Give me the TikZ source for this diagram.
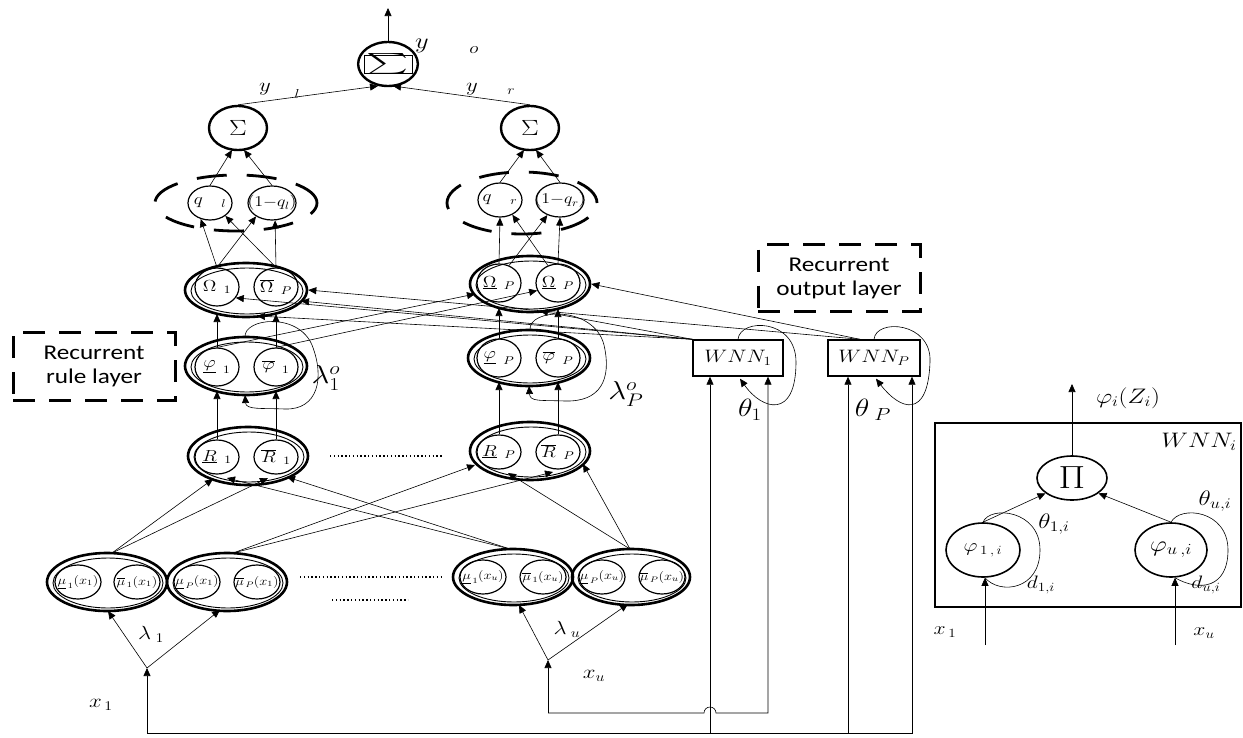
\RequirePackage{fix-cm}
\documentclass[tikz,border=0pt]{standalone}
\usepackage{fontspec}
\newfontfamily\boxfont{Carlito}
\usetikzlibrary{shapes.geometric,arrows.meta,calc}
\newcommand\sx[1]{\scalebox{1.2}[1]{#1}}
\newcommand\fs[1]{\fontsize{#1}{#1}\selectfont}
\newcommand\lay[5]{\node[outer, minimum width=#4, minimum height=#5] (#1) at (#2,#3) {};
  \draw[line width=0.9pt] (#2+1,#3+1) ellipse [x radius={#4/2-5}, y radius={#5/2-4}];}
\newcommand\inn[5][]{\node[inner,#1] (#2) at (#3,#4) {}; \node[lab] (#2t) at (#2) {\sx{#5}};}
\begin{document}
\begin{tikzpicture}[x=1pt,y=-1pt,
  arr/.style={-{Triangle[length=8pt,width=7pt]}, line width=0.6pt},
  outer/.style={draw, ellipse, line width=2.6pt, inner sep=0pt},
  inner/.style={draw, ellipse, line width=1.2pt, minimum width=44, minimum height=38, inner sep=0pt},
  lab/.style={inner sep=0pt, font=\fs{16}},
  sig/.style={draw, ellipse, line width=2.4pt, minimum width=58, minimum height=44, inner sep=0pt},
  qdash/.style={draw, ellipse, line width=2.8pt, dash pattern=on 30pt off 20pt, inner sep=0pt},
  dbox/.style={draw, line width=3pt, dash pattern=on 22pt off 14pt, align=center, inner sep=0pt, font=\boxfont\fontsize{21}{24}\selectfont},
  wbox/.style={draw, line width=1.4pt, inner sep=0pt, minimum height=36},
  tl/.style={inner sep=0pt},
  dots/.style={line width=1.3pt, dash pattern=on 1.4pt off 2.4pt},
  loop/.style={line width=0.6pt}
]
\path[use as bounding box] (0,0) rectangle (1243,737);

% ---------- top sums
\node[sig] (S0) at (388,64) {\scalebox{4}[2.1]{$\sum$}};
\draw[line width=0.8pt] ($(S0)+(-24,-9)$) rectangle ($(S0)+(24,9)$);
\coordinate (out) at (388,8);
\draw[arr] (S0.north) -- (out);
\node[tl] (yo) at (422,46) {\fs{22}\sx{$y$}};
\node[tl] (yo2) at (474,50) {\fs{16}\sx{$o$}};

\node[sig] (SL) at (238,128) {\fs{22}\sx{$\Sigma$}};
\node[sig] (SR) at (530,128) {\fs{22}\sx{$\Sigma$}};
\draw[arr] (SL.north) -- ($(S0)+(-10,22)$);
\draw[arr] (SR.north) -- ($(S0)+(5,22)$);
\node[tl] (yl) at (265,89) {\fs{19}\sx{$y$}};
\node[tl] (yl2) at (297,94) {\fs{13}\sx{$l$}};
\node[tl] (yr) at (472,89) {\fs{19}\sx{$y$}};
\node[tl] (yr2) at (511,92) {\fs{13}\sx{$r$}};

% ---------- q layer
\node[qdash, minimum width=162, minimum height=56] (QL) at (236,203) {};
\node[qdash, minimum width=150, minimum height=62] (QR) at (522,203) {};
\inn[minimum height=34]{q1}{210}{203}{$q_{\quad l}$}
\inn[minimum width=48, minimum height=34]{q2}{272}{203}{\fs{15}$(1{-}q_l)$}
\inn[minimum height=34]{qr1}{500}{200}{$q_{\quad r}$}
\inn[minimum width=48, minimum height=34]{qr2}{560}{200}{\fs{15}$(1{-}q_r)$}
\draw[arr] (q1.north) -- ($(SL)+(-6,22)$);
\draw[arr] (q2.north) -- ($(SL)+(6,22)$);
\draw[arr] (qr1.north) -- ($(SR)+(-6,22)$);
\draw[arr] (qr2.north) -- ($(SR)+(6,22)$);

% ---------- Omega layer
\lay{OmL}{246}{290}{122}{54}
\lay{OmR}{530}{284}{120}{56}
\inn{Om1}{217}{287}{$\Omega_{\;\;1}$}
\inn{OmP}{276}{287}{$\overline{\Omega}_{\;\;P}$}
\inn{OmR1}{499}{283}{$\underline{\Omega}_{\;\;P}$}
\inn{OmR2}{558}{283}{$\underline{\Omega}_{\;\;P}$}
\draw[arr] (Om1.north) -- (q1.240);
\draw[arr] (Om1.north) -- (q2.220);
\draw[arr] (OmP.north) -- (q1.-40);
\draw[arr] (OmP.north) -- (q2.-80);
\draw[arr] (OmR1.north) -- (qr1.south);
\draw[arr] (OmR2.north) -- (qr2.south);
\draw[arr] (OmR1.60) -- (qr2.230);
\draw[arr] (OmR2.120) -- (qr1.-50);

% ---------- phi layer
\lay{PhL}{246}{366}{122}{58}
\lay{PhR}{529}{358}{122}{56}
\inn{Ph1}{217}{367}{$\underline{\varphi}_{\;\;1}$}
\inn{Ph1b}{276}{367}{$\overline{\varphi}_{\;\;1}$}
\inn{PhR1}{499}{358}{$\underline{\varphi}_{\;\;P}$}
\inn{PhR2}{558}{358}{$\overline{\varphi}_{\;\;P}$}
\draw[arr] (Ph1.north) -- ($(OmL)+(-29,24)$);
\draw[arr] (Ph1b.north) -- ($(OmL)+(30,24)$);
\draw[arr] (PhR1.north) -- ($(OmR)+(-31,24)$);
\draw[arr] (PhR2.north) -- ($(OmR)+(28,25)$);

% recurrent loops on phi layers
\draw[arr] ($(PhL)+(-1,-29)$) .. controls (244,318) and (298,312) .. (312,345)
  .. controls (325,378) and (318,410) .. (285,409) .. controls (262,408) and (246,410) .. ($(PhL)+(-1,29)$);
\node[tl] (lam1) at (326,378) {\fs{26}\sx{$\lambda_1^o$}};
\draw[arr] ($(PhR)+(1,-28)$) .. controls (528,308) and (594,305) .. (604,345)
  .. controls (612,380) and (600,402) .. (565,401) .. controls (540,400) and (530,402) .. ($(PhR)+(0,28)$);
\node[tl] (lamP) at (626,394) {\fs{26}\sx{$\lambda_P^o$}};

% ---------- R layer
\lay{RL}{248}{456}{120}{58}
\lay{RR}{530}{451}{120}{58}
\inn[minimum height=34]{R1}{217}{457}{$\underline{R}_{\;\;1}$}
\inn[minimum height=34]{R1b}{276}{457}{$\overline{R}_{\;\;1}$}
\inn[minimum height=34]{RR1}{499}{452}{$\underline{R}_{\;\;P}$}
\inn[minimum height=34]{RR2}{558}{452}{$\overline{R}_{\;\;P}$}
\draw[arr] (R1.north) -- ($(PhL)+(-29,25)$);
\draw[arr] (R1b.north) -- ($(PhL)+(30,25)$);
\draw[arr] (RR1.north) -- ($(PhR)+(-30,24)$);
\draw[arr] (RR2.north) -- ($(PhR)+(29,24)$);

% ---------- membership layer
\lay{M1}{107}{582}{120}{58}
\lay{M2}{227}{582}{120}{58}
\lay{M3}{513}{577}{120}{56}
\lay{M4}{631}{577}{118}{56}
\inn[minimum width=46, minimum height=34]{m11}{78}{582}{\fs{12}$\underline{\mu}_{\,1}(x_1)$}
\inn[minimum width=46, minimum height=34]{m12}{137}{582}{\fs{12}$\overline{\mu}_{\,1}(x_1)$}
\inn[minimum width=46, minimum height=34]{m21}{197}{582}{\fs{12}$\underline{\mu}_{\,P}(x_1)$}
\inn[minimum width=46, minimum height=34]{m22}{257}{582}{\fs{12}$\overline{\mu}_{\,P}(x_1)$}
\inn[minimum width=46, minimum height=34]{m31}{483}{577}{\fs{12}$\underline{\mu}_{\,1}(x_u)$}
\inn[minimum width=46, minimum height=34]{m32}{543}{577}{\fs{12}$\overline{\mu}_{\,1}(x_u)$}
\inn[minimum width=46, minimum height=34]{m41}{602}{577}{\fs{12}$\underline{\mu}_{\,P}(x_u)$}
\inn[minimum width=46, minimum height=34]{m42}{662}{577}{\fs{12}$\overline{\mu}_{\,P}(x_u)$}

\draw[arr] ($(M1)+(5,-29)$) -- ($(RL)+(-35,23)$);
\draw[arr] ($(M1)+(5,-29)$) -- ($(RL)+(20,22)$);
\draw[arr] ($(M3)+(-3,-28)$) -- ($(RL)+(-21,22)$);
\draw[arr] ($(M3)+(-3,-28)$) -- ($(RL)+(39,21)$);
\draw[arr] ($(M2)+(6,-29)$) -- ($(RR)+(-55,14)$);
\draw[arr] ($(M2)+(6,-29)$) -- ($(RR)+(23,21)$);
\draw[arr] ($(M4)+(-1,-28)$) -- ($(RR)+(-22,22)$);
\draw[arr] ($(M4)+(-1,-28)$) -- ($(RR)+(53,13)$);

% dots
\draw[dots] (330,456) -- (442,456);
\draw[dots] (300,577) -- (444,577);
\draw[dots] (332,600) -- (408,600);

% ---------- inputs
\coordinate (F1) at (147,668);
\coordinate (B1) at (147,733);
\coordinate (Fu) at (548,660);
\coordinate (Bu) at (548,713);
\draw[arr] (B1) -- (F1);
\draw[arr] (F1) -- ($(M1)+(1,29)$);
\draw[arr] (F1) -- ($(M2)+(-7,28)$);
\draw[arr] (Bu) -- (Fu);
\draw[arr] (Fu) -- ($(M3)+(6,28)$);
\draw[arr] (Fu) -- ($(M4)+(-3,27)$);
\node[tl] (lab1) at (151,634) {\fs{19}\sx{$\lambda_{\;1}$}};
\node[tl] (labu) at (567,629) {\fs{19}\sx{$\lambda_{\;u}$}};
\node[tl] (x1l) at (101,705) {\fs{19}\sx{$x_{\,1}$}};
\node[tl] (xul) at (594,676) {\fs{19}\sx{$x_u$}};

% ---------- WNN blocks
\node[wbox, minimum width=90] (W1) at (738,358) {\fs{18}\sx{$WNN_1$}};
\node[wbox, minimum width=92] (WP) at (874,358) {\fs{18}\sx{$WNN_P$}};
\coordinate (w1a) at ($(W1.south)+(-28,0)$);
\coordinate (w1b) at ($(W1.south)+(30,0)$);
\coordinate (wpa) at ($(WP.south)+(-26,0)$);
\coordinate (wpb) at ($(WP.south)+(38,0)$);
\draw[arr] (B1) -- (wpb |- B1) -- (wpb);
\draw[arr] (wpa |- B1) -- (wpa);
\draw[arr] (w1a |- B1) -- (w1a);
\draw[arr] (Bu) -- ($(w1a |- Bu)+(-6,0)$) arc[start angle=180, end angle=360, radius=6] -- (w1b |- Bu) -- (w1b);
\draw[arr] (W1.north) .. controls (740,318) and (796,318) .. (796,362)
  .. controls (796,420) and (762,410) .. ($(W1.south)+(2,2)$);
\draw[arr] (WP.north) .. controls (876,318) and (932,322) .. (930,362)
  .. controls (928,420) and (900,410) .. ($(WP.south)+(2,2)$);
\node[tl] (th1) at (750,410) {\fs{25}\sx{$\theta_1$}};
\node[tl] (thP) at (873,410) {\fs{25}\sx{$\theta_{\;P}$}};

% WNN -> Omega, phi -> Omega
\coordinate (wps) at ($(WP.north)+(-14,0)$);
\draw[arr] (W1.north west) -- (Om1.-30);
\draw[arr] (W1.north west) -- ($(OmL)+(55,11)$);
\draw[arr] (W1.north west) -- ($(OmL)+(11,26)$);
\draw[arr] (W1.north west) -- ($(OmR)+(10,27)$);
\draw[arr] (wps) -- (OmL.east);
\draw[arr] (wps) -- (OmR.east);
\draw[arr] (Ph1.north) -- ($(OmR)+(-55,10)$);
\draw[arr] (Ph1b.north) -- (OmR2.200);

% ---------- dashed annotation boxes
\node[dbox, minimum width=162, minimum height=68] (RRL) at (94,366) {\sx{Recurrent}\\\sx{rule layer}};
\node[dbox, minimum width=162, minimum height=67] (ROL) at (839,278) {\sx{Recurrent}\\\sx{output layer}};

% ---------- WNN_i detail
\node[draw, line width=1.4pt, minimum width=306, minimum height=184, inner sep=0pt] (WNNi) at (1088,515) {};
\node[tl] (WNNil) at (1199,442) {\fs{21}\sx{$WNN_i$}};
\node[draw, ellipse, line width=1.6pt, minimum width=70, minimum height=44, inner sep=0pt] (Pi) at (1072,478) {\fs{32}\sx{$\Pi$}};
\coordinate (piout) at (1072,384);
\draw[arr] (Pi.north) -- (piout);
\node[tl] (phiZ) at (1128,398) {\fs{21}\sx{$\varphi_i(Z_i)$}};
\node[draw, ellipse, line width=1.6pt, minimum width=74, minimum height=54, inner sep=0pt] (P1) at (983,550) {\fs{18}\sx{$\varphi_{\,1\,,\,i}$}};
\node[draw, ellipse, line width=1.6pt, minimum width=72, minimum height=54, inner sep=0pt] (Pu) at (1171,550) {\fs{22}\sx{$\varphi_{u\,,i}$}};
\draw[arr] (P1.north) -- (Pi.210);
\draw[arr] (Pu.north) -- (Pi.-30);
\draw[loop] (P1.north) .. controls (990,505) and (1040,510) .. (1040,550)
  .. controls (1040,590) and (1000,595) .. ($(P1.south)+(2,0)$);
\draw[loop] (Pu.north) .. controls (1180,505) and (1228,510) .. (1228,550)
  .. controls (1228,588) and (1200,592) .. ($(Pu.south)+(4,0)$);
\coordinate (xi1) at (985,645);
\coordinate (xiu) at (1175,645);
\draw[arr] (xi1) -- ($(P1.south)+(2,0)$);
\draw[arr] (xiu) -- ($(Pu.south)+(4,0)$);
\node[tl] (th1i) at (1054,524) {\fs{21}\sx{$\theta_{1,i}$}};
\node[tl] (d1i) at (1041,585) {\fs{18}\sx{$d_{1,i}$}};
\node[tl] (thui) at (1215,501) {\fs{21}\sx{$\theta_{u,i}$}};
\node[tl] (dui) at (1206,585) {\fs{18}\sx{$d_{u,i}$}};
\node[tl] (x1r) at (945,632) {\fs{18}\sx{$x_{\,1}$}};
\node[tl] (xur) at (1204,633) {\fs{18}\sx{$x_u$}};
\end{tikzpicture}
\end{document}
